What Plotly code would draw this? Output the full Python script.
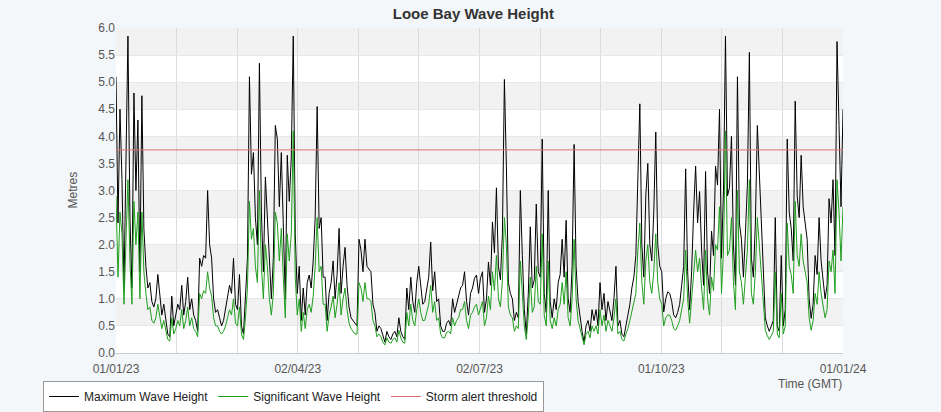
import pandas as pd
import plotly.graph_objects as go

# Daily readings, 01/01/23 .. 01/01/24 (metres)
max_wave = [
    5.1, 2.4, 4.5, 3.2, 1.2, 3.3, 5.85, 2.5, 1.2, 4.8,
    3.0, 4.3, 1.5, 4.75, 2.3, 1.6, 1.2, 1.3, 0.95, 0.85,
    1.0, 1.45, 1.1, 0.7, 0.9, 0.6, 0.35, 0.3, 1.05, 0.5,
    0.7, 0.9, 0.8, 1.25, 0.7, 0.95, 1.4, 0.8, 1.0, 0.7,
    0.6, 0.4, 1.75, 1.6, 1.8, 1.75, 3.0, 2.0, 1.75, 1.0,
    0.75, 0.8, 0.65, 0.5, 0.6, 0.8, 1.0, 1.25, 1.1, 1.75,
    0.9, 0.8, 1.45, 0.5, 0.35, 1.0, 1.75, 5.1, 3.3, 3.7,
    2.5, 2.0, 5.35, 2.6, 1.5, 3.25, 2.5, 1.6, 1.0, 1.75,
    4.2, 3.95, 2.7, 3.7, 2.3, 1.0, 3.65, 2.8, 3.6, 5.85,
    2.2, 1.1, 1.6, 0.6, 1.2, 0.7, 1.3, 1.44, 1.2, 1.7,
    2.5, 4.55, 2.3, 2.5, 1.4, 1.4, 0.6, 1.1, 1.3, 1.7,
    1.0, 1.45, 2.3, 1.1, 1.6, 1.95, 1.25, 0.85, 0.65, 0.6,
    0.55, 0.5, 2.1, 1.9, 1.5, 2.1, 1.6, 1.55, 1.5, 0.9,
    0.75, 0.4, 0.5, 0.45, 0.3, 0.2, 0.4, 0.3, 0.25, 0.35,
    0.4, 0.3, 0.65, 0.4, 0.3, 0.25, 1.2, 0.8, 1.4, 0.95,
    0.75, 1.3, 1.6, 1.2, 0.9, 0.95, 1.15, 1.4, 2.05, 1.15,
    1.5, 0.95, 1.0, 0.5, 0.4, 0.4, 0.55, 0.6, 0.5, 1.0,
    0.75, 0.9, 1.0, 1.2, 1.25, 1.5, 0.95, 0.7, 1.1, 1.2,
    1.38, 1.44, 1.1, 1.38, 1.5, 0.75, 1.0, 1.68, 1.25, 2.42,
    1.85, 3.05, 1.6, 1.35, 2.2, 5.05, 3.45, 1.3, 1.1, 1.0,
    0.6, 0.75, 0.65, 3.0, 1.8, 0.8, 0.35, 1.1, 2.33, 1.2,
    1.35, 2.75, 1.5, 1.4, 3.95, 1.1, 0.75, 3.0, 0.95, 0.65,
    1.0, 0.8, 1.3, 1.45, 2.1, 1.4, 2.45, 1.0, 0.75, 1.6,
    3.85, 1.6, 0.95, 0.65, 0.4, 0.2, 0.5, 0.6, 0.4, 0.8,
    0.6, 0.8, 0.5, 1.3, 0.8, 1.1, 0.6, 0.95, 0.8, 0.6,
    1.0, 1.6, 0.5, 0.6, 0.35, 0.3, 0.5, 0.7, 0.9, 1.2,
    1.4, 1.8, 3.3, 4.6, 2.0, 1.4, 2.9, 3.5, 2.0, 1.7,
    2.6, 4.08, 2.0, 1.6, 1.5, 0.76, 1.0, 1.13, 1.1, 0.95,
    0.7, 0.65, 0.75, 0.9, 1.25, 1.6, 3.4, 1.5, 0.8, 1.5,
    2.6, 3.45, 2.4, 2.98, 1.9, 1.25, 3.35, 1.5, 1.1, 2.25,
    1.8, 3.45, 3.1, 4.5, 1.75, 3.0, 5.85, 2.9, 3.05, 4.0,
    2.0, 1.25, 5.1, 2.4, 2.1, 1.4, 2.2, 3.1, 5.55, 1.75,
    1.4, 2.4, 4.2, 3.3, 2.5, 1.4, 0.65, 0.5, 0.4, 0.5,
    0.6, 2.5, 0.5, 0.4, 1.8, 0.5, 0.8, 3.95, 2.6, 2.3,
    1.7, 4.65, 2.9, 2.5, 3.65, 2.7, 2.4, 2.1, 1.0, 0.64,
    0.9, 1.8, 1.45, 2.5, 1.7, 1.3, 1.0, 1.25, 2.85, 2.4,
    3.2, 1.8, 5.75, 4.2, 2.7, 4.5,
]

sig_wave = [
    2.9, 1.4, 2.6, 2.2, 0.9, 2.0, 3.2, 1.7, 0.9, 2.8,
    2.0, 2.6, 1.0, 2.6, 1.5, 1.1, 0.8, 0.85, 0.6, 0.55,
    0.65, 0.9, 0.7, 0.45, 0.6, 0.4, 0.25, 0.22, 0.65, 0.35,
    0.45, 0.6, 0.5, 0.8, 0.45, 0.6, 0.85, 0.5, 0.65, 0.45,
    0.4, 0.3, 1.1, 1.0, 1.15, 1.1, 1.5, 1.2, 1.05, 0.65,
    0.5, 0.5, 0.4, 0.35, 0.4, 0.5, 0.65, 0.8, 0.7, 1.0,
    0.55, 0.5, 0.85, 0.35, 0.25, 0.65, 1.2, 2.8, 2.1, 2.3,
    1.6, 1.3, 3.0, 1.6, 1.0, 2.0, 1.6, 1.0, 0.7, 1.1,
    2.6, 2.4, 1.7, 2.3, 1.4, 0.65, 2.2, 1.7, 2.2, 4.1,
    1.4, 0.7, 1.0, 0.4, 0.75, 0.45, 0.8, 0.9, 0.75, 1.05,
    1.6, 2.5, 1.5, 1.6, 0.9, 0.9, 0.4, 0.7, 0.85, 1.05,
    0.65, 0.9, 1.3, 0.7, 1.0, 1.2, 0.8, 0.55, 0.45, 0.4,
    0.35, 0.35, 1.3, 1.2, 0.95, 1.3, 1.0, 1.0, 0.95, 0.6,
    0.5, 0.3, 0.35, 0.3, 0.2, 0.15, 0.28, 0.2, 0.18, 0.25,
    0.28, 0.2, 0.42, 0.28, 0.2, 0.18, 0.75, 0.5, 0.9, 0.6,
    0.5, 0.8, 1.0, 0.75, 0.6, 0.6, 0.75, 0.9, 1.25, 0.75,
    0.95, 0.6, 0.65, 0.35, 0.28, 0.28, 0.38, 0.4, 0.35, 0.65,
    0.5, 0.6, 0.65, 0.8, 0.8, 0.95, 0.6, 0.45, 0.7, 0.75,
    0.85, 0.9, 0.7, 0.85, 0.95, 0.5, 0.65, 1.05, 0.8, 1.5,
    1.15, 1.8, 1.0, 0.85, 1.35, 2.5, 2.0, 0.85, 0.7, 0.65,
    0.4, 0.5, 0.45, 1.7, 1.1, 0.5, 0.25, 0.7, 1.4, 0.75,
    0.85, 1.6, 0.95, 0.9, 2.2, 0.7, 0.5, 1.7, 0.6, 0.45,
    0.65, 0.5, 0.8, 0.9, 1.3, 0.9, 1.5, 0.65, 0.5, 1.0,
    2.1, 1.0, 0.6, 0.45, 0.28, 0.15, 0.35, 0.4, 0.28, 0.5,
    0.4, 0.5, 0.35, 0.8, 0.5, 0.7, 0.4, 0.6, 0.5, 0.4,
    0.65, 1.0, 0.35, 0.4, 0.25, 0.22, 0.35, 0.45, 0.6, 0.75,
    0.9, 1.1, 1.9, 2.4, 1.3, 0.9, 1.7, 2.0, 1.3, 1.1,
    1.5, 2.2, 1.3, 1.0, 0.9, 0.5, 0.65, 0.7, 0.7, 0.6,
    0.45, 0.42, 0.5, 0.6, 0.8, 1.0, 1.9, 1.0, 0.55, 1.0,
    1.5, 1.9, 1.5, 1.75, 1.2, 0.8, 1.9, 1.0, 0.7, 1.4,
    1.15, 2.0, 1.9, 2.7, 1.1, 1.9, 4.1, 1.8, 1.9, 2.5,
    1.3, 0.8, 3.0, 1.5, 1.3, 0.9, 1.4, 1.9, 3.2, 1.1,
    0.9, 1.5, 2.5, 2.0, 1.5, 0.9, 0.42, 0.32, 0.25, 0.32,
    0.4, 1.5, 0.35, 0.28, 1.1, 0.35, 0.5, 2.4, 1.6, 1.45,
    1.1, 2.8, 1.8, 1.6, 2.2, 1.7, 1.5, 1.3, 0.65, 0.42,
    0.6, 1.1, 0.9, 1.5, 1.1, 0.85, 0.65, 0.8, 1.7, 1.5,
    1.9, 1.1, 3.2, 2.6, 1.7, 2.7,
]

storm_threshold = 3.75
x_tick_labels = ["01/01/23", "02/04/23", "02/07/23", "01/10/23", "01/01/24"]
y_ticks = [0.0, 0.5, 1.0, 1.5, 2.0, 2.5, 3.0, 3.5, 4.0, 4.5, 5.0, 5.5, 6.0]

start = pd.Timestamp("2023-01-01")
end = pd.Timestamp("2024-01-01")
times = pd.date_range(start, periods=len(max_wave), freq="D")

FONT = "Liberation Sans, Arial, sans-serif"

fig = go.Figure()
fig.add_trace(go.Scatter(x=times, y=max_wave, mode="lines", name="Maximum Wave Height",
                         line=dict(color="#000000", width=1)))
fig.add_trace(go.Scatter(x=times, y=sig_wave, mode="lines", name="Significant Wave Height",
                         line=dict(color="#1f9e1f", width=1)))
fig.add_trace(go.Scatter(x=[start, end], y=[storm_threshold, storm_threshold], mode="lines",
                         name="Storm alert threshold", line=dict(color="#e07070", width=1)))

# alternating grey bands
for i in range(len(y_ticks) - 1):
    if i % 2 == 1:
        fig.add_shape(type="rect", xref="paper", yref="y", x0=0, x1=1,
                      y0=y_ticks[i], y1=y_ticks[i + 1], fillcolor="#f2f2f2",
                      line_width=0, layer="below")

# 12 equal divisions for vertical grid, labels every third
span = end - start
tickvals = [start + span * k / 12 for k in range(13)]
ticktext = [x_tick_labels[k // 3] if k % 3 == 0 else "" for k in range(13)]

fig.update_layout(
    width=941, height=412,
    margin=dict(l=116, r=98, t=28, b=59, autoexpand=False),
    paper_bgcolor="#f4f7f9",
    plot_bgcolor="#ffffff",
    font=dict(family=FONT, size=12, color="#555555"),
    title=dict(text="<b>Looe Bay Wave Height</b>", x=0.503, xref="container",
               y=0.966, yref="container", xanchor="center", yanchor="middle",
               font=dict(family=FONT, size=15, color="#333333")),
    showlegend=True,
    legend=dict(orientation="h", x=43 / 941, y=1 - 381 / 412, xref="container",
                yref="container", xanchor="left", yanchor="top",
                bgcolor="#ffffff", bordercolor="#999999", borderwidth=1,
                font=dict(family=FONT, size=12, color="#222222"),
                itemwidth=30, tracegroupgap=0),
    xaxis=dict(type="date", range=[start, end], tickmode="array", tickvals=tickvals,
               ticktext=ticktext, showgrid=True, gridcolor="#dcdcdc", gridwidth=1,
               showline=True, linecolor="#cccccc", zeroline=False, ticks="",
               ticklabelstandoff=5,
               tickfont=dict(size=12, color="#555555")),
    yaxis=dict(range=[0, 6], tickmode="array", tickvals=y_ticks,
               ticktext=[f"{v:.1f}" for v in y_ticks], showgrid=True,
               gridcolor="#e8e8e8", zeroline=False, ticks="",
               tickfont=dict(size=12, color="#555555")),
    annotations=[
        dict(text="Metres", xref="paper", yref="paper", x=-0.0605, y=0.5,
             textangle=-90, showarrow=False, xanchor="center", yanchor="middle",
             font=dict(family=FONT, size=12, color="#555555")),
        dict(text="Time (GMT)", xref="paper", yref="paper", x=0.955, y=-0.095,
             showarrow=False, xanchor="center", yanchor="middle",
             font=dict(family=FONT, size=12, color="#555555")),
    ],
)

fig.write_html("out.html")
